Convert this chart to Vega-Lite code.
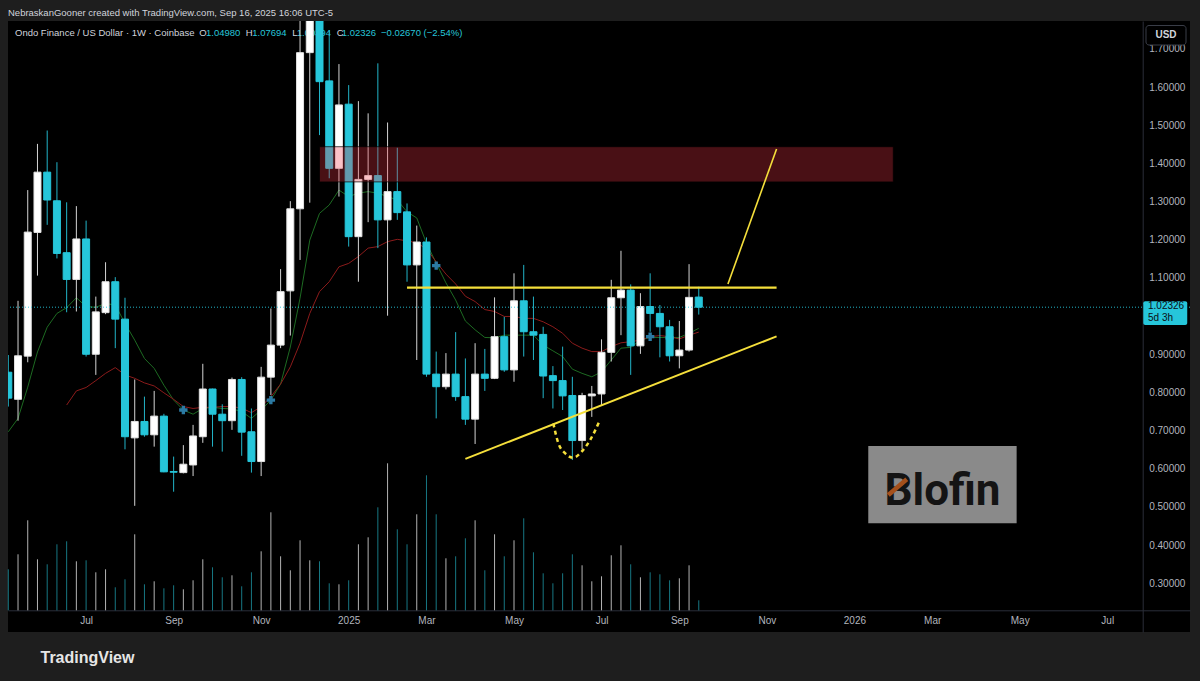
{
  "$schema": "https://vega.github.io/schema/vega-lite/v6.json",
  "width": 1182,
  "height": 611,
  "autosize": {"type": "none"},
  "padding": {"left": 8, "top": 21, "right": 10, "bottom": 49},
  "background": "#1e1e1e",
  "config": {
    "view": {"fill": "#000000", "stroke": null},
    "text": {"font": "Liberation Sans"},
    "axis": {"grid": false, "ticks": false},
    "scale": {"continuousPadding": 0}
  },
  "title": {
    "text": "NebraskanGooner created with TradingView.com, Sep 16, 2025 16:06 UTC-5",
    "anchor": "start",
    "frame": "group",
    "offset": 4,
    "font": "Liberation Sans",
    "fontSize": 9.5,
    "fontWeight": "normal",
    "color": "#d1d4dc"
  },
  "datasets": {
    "candles": [
      {"d":"2024-05-06","o":0.853,"h":0.898,"l":0.763,"c":0.785,"v":41,"g":0.697},
      {"d":"2024-05-13","o":0.782,"h":1.040,"l":0.726,"c":0.896,"v":56,"g":0.732},
      {"d":"2024-05-20","o":0.895,"h":1.330,"l":0.879,"c":1.220,"v":90,"g":0.814},
      {"d":"2024-05-27","o":1.219,"h":1.451,"l":1.106,"c":1.377,"v":51,"g":0.906},
      {"d":"2024-06-03","o":1.377,"h":1.486,"l":1.239,"c":1.304,"v":46,"g":0.971},
      {"d":"2024-06-10","o":1.302,"h":1.403,"l":1.151,"c":1.164,"v":66,"g":1.007},
      {"d":"2024-06-17","o":1.166,"h":1.298,"l":1.010,"c":1.096,"v":69,"g":1.022,"r":0.767},
      {"d":"2024-06-24","o":1.096,"h":1.288,"l":1.012,"c":1.202,"v":49,"g":1.048,"r":0.804},
      {"d":"2024-07-01","o":1.202,"h":1.250,"l":0.894,"c":0.900,"v":50,"g":1.025,"r":0.813},
      {"d":"2024-07-08","o":0.900,"h":1.051,"l":0.846,"c":1.011,"v":38,"g":1.023,"r":0.831},
      {"d":"2024-07-15","o":1.009,"h":1.141,"l":1.005,"c":1.090,"v":41,"g":1.033,"r":0.850},
      {"d":"2024-07-22","o":1.090,"h":1.102,"l":0.916,"c":0.992,"v":23,"g":1.029,"r":0.865},
      {"d":"2024-07-29","o":0.992,"h":1.048,"l":0.651,"c":0.684,"v":31,"g":0.981,"r":0.846},
      {"d":"2024-08-05","o":0.681,"h":0.834,"l":0.503,"c":0.724,"v":76,"g":0.937,"r":0.837},
      {"d":"2024-08-12","o":0.724,"h":0.789,"l":0.684,"c":0.689,"v":26,"g":0.889,"r":0.825},
      {"d":"2024-08-19","o":0.689,"h":0.804,"l":0.658,"c":0.738,"v":29,"g":0.863,"r":0.817},
      {"d":"2024-08-26","o":0.738,"h":0.744,"l":0.591,"c":0.592,"v":22,"g":0.819,"r":0.799},
      {"d":"2024-09-02","o":0.593,"h":0.632,"l":0.540,"c":0.591,"v":25,"g":0.780,"r":0.782},
      {"d":"2024-09-09","o":0.590,"h":0.662,"l":0.588,"c":0.612,"v":21,"g":0.754,"r":0.763,"xo":0.754},
      {"d":"2024-09-16","o":0.610,"h":0.715,"l":0.581,"c":0.686,"v":30,"g":0.743,"r":0.758},
      {"d":"2024-09-23","o":0.684,"h":0.875,"l":0.668,"c":0.809,"v":51,"g":0.758,"r":0.761},
      {"d":"2024-09-30","o":0.809,"h":0.810,"l":0.658,"c":0.743,"v":43,"g":0.761,"r":0.761},
      {"d":"2024-10-07","o":0.743,"h":0.769,"l":0.645,"c":0.726,"v":33,"g":0.758,"r":0.763},
      {"d":"2024-10-14","o":0.726,"h":0.839,"l":0.702,"c":0.834,"v":35,"g":0.757,"r":0.763},
      {"d":"2024-10-21","o":0.834,"h":0.840,"l":0.634,"c":0.696,"v":24,"g":0.750,"r":0.759},
      {"d":"2024-10-28","o":0.697,"h":0.758,"l":0.590,"c":0.619,"v":38,"g":0.732,"r":0.747},
      {"d":"2024-11-04","o":0.619,"h":0.867,"l":0.581,"c":0.840,"v":59,"g":0.754,"r":0.763},
      {"d":"2024-11-11","o":0.840,"h":1.020,"l":0.793,"c":0.924,"v":98,"g":0.780,"r":0.789,"xo":0.780},
      {"d":"2024-11-18","o":0.924,"h":1.123,"l":0.916,"c":1.064,"v":54,"g":0.822,"r":0.822},
      {"d":"2024-11-25","o":1.066,"h":1.301,"l":0.949,"c":1.281,"v":40,"g":0.919,"r":0.867},
      {"d":"2024-12-02","o":1.281,"h":1.950,"l":1.147,"c":1.690,"v":70,"g":1.047,"r":0.929},
      {"d":"2024-12-09","o":1.690,"h":2.140,"l":1.297,"c":1.920,"v":50,"g":1.199,"r":1.007},
      {"d":"2024-12-16","o":1.920,"h":2.000,"l":1.474,"c":1.614,"v":49,"g":1.269,"r":1.064},
      {"d":"2024-12-23","o":1.616,"h":1.749,"l":1.361,"c":1.387,"v":27,"g":1.291,"r":1.090},
      {"d":"2024-12-30","o":1.387,"h":1.660,"l":1.313,"c":1.553,"v":26,"g":1.330,"r":1.129},
      {"d":"2025-01-06","o":1.555,"h":1.605,"l":1.182,"c":1.208,"v":30,"g":1.313,"r":1.138},
      {"d":"2025-01-13","o":1.208,"h":1.563,"l":1.090,"c":1.358,"v":66,"g":1.322,"r":1.156},
      {"d":"2025-01-20","o":1.358,"h":1.531,"l":1.246,"c":1.368,"v":73,"g":1.326,"r":1.178},
      {"d":"2025-01-27","o":1.368,"h":1.662,"l":1.178,"c":1.252,"v":103,"g":1.322,"r":1.182},
      {"d":"2025-02-03","o":1.252,"h":1.507,"l":1.001,"c":1.326,"v":147,"g":1.313,"r":1.195},
      {"d":"2025-02-10","o":1.326,"h":1.441,"l":1.252,"c":1.271,"v":81,"g":1.304,"r":1.201},
      {"d":"2025-02-17","o":1.273,"h":1.295,"l":1.090,"c":1.134,"v":66,"g":1.273,"r":1.197},
      {"d":"2025-02-24","o":1.134,"h":1.237,"l":0.885,"c":1.194,"v":96,"g":1.257,"r":1.192},
      {"d":"2025-03-03","o":1.194,"h":1.206,"l":0.841,"c":0.848,"v":135,"g":1.191,"r":1.176},
      {"d":"2025-03-10","o":0.848,"h":0.907,"l":0.732,"c":0.815,"v":96,"g":1.139,"r":1.142,"xo":1.132},
      {"d":"2025-03-17","o":0.815,"h":0.903,"l":0.808,"c":0.848,"v":52,"g":1.087,"r":1.110},
      {"d":"2025-03-24","o":0.848,"h":0.958,"l":0.778,"c":0.789,"v":54,"g":1.042,"r":1.084},
      {"d":"2025-03-31","o":0.789,"h":0.889,"l":0.715,"c":0.730,"v":72,"g":0.987,"r":1.052},
      {"d":"2025-04-07","o":0.730,"h":0.929,"l":0.665,"c":0.848,"v":90,"g":0.964,"r":1.038},
      {"d":"2025-04-14","o":0.848,"h":0.914,"l":0.804,"c":0.837,"v":40,"g":0.944,"r":1.017},
      {"d":"2025-04-21","o":0.837,"h":1.049,"l":0.835,"c":0.946,"v":76,"g":0.943,"r":1.012},
      {"d":"2025-04-28","o":0.946,"h":0.998,"l":0.854,"c":0.859,"v":54,"g":0.950,"r":0.999},
      {"d":"2025-05-05","o":0.859,"h":1.112,"l":0.828,"c":1.040,"v":70,"g":0.950,"r":0.999},
      {"d":"2025-05-12","o":1.040,"h":1.134,"l":0.894,"c":0.959,"v":92,"g":0.950,"r":0.994},
      {"d":"2025-05-19","o":0.959,"h":1.051,"l":0.885,"c":0.950,"v":58,"g":0.950,"r":0.994},
      {"d":"2025-05-26","o":0.952,"h":0.972,"l":0.785,"c":0.843,"v":37,"g":0.924,"r":0.985},
      {"d":"2025-06-02","o":0.844,"h":0.869,"l":0.758,"c":0.831,"v":27,"g":0.909,"r":0.972},
      {"d":"2025-06-09","o":0.831,"h":0.920,"l":0.754,"c":0.791,"v":37,"g":0.894,"r":0.955},
      {"d":"2025-06-16","o":0.792,"h":0.841,"l":0.623,"c":0.674,"v":56,"g":0.861,"r":0.929},
      {"d":"2025-06-23","o":0.674,"h":0.799,"l":0.651,"c":0.792,"v":45,"g":0.850,"r":0.916},
      {"d":"2025-06-30","o":0.791,"h":0.817,"l":0.736,"c":0.796,"v":29,"g":0.841,"r":0.907},
      {"d":"2025-07-07","o":0.796,"h":0.939,"l":0.767,"c":0.905,"v":34,"g":0.854,"r":0.907},
      {"d":"2025-07-14","o":0.905,"h":1.095,"l":0.881,"c":1.048,"v":55,"g":0.885,"r":0.920},
      {"d":"2025-07-21","o":1.048,"h":1.171,"l":0.950,"c":1.068,"v":65,"g":0.916,"r":0.930},
      {"d":"2025-07-28","o":1.068,"h":1.083,"l":0.846,"c":0.922,"v":46,"g":0.918,"r":0.933},
      {"d":"2025-08-04","o":0.922,"h":1.060,"l":0.901,"c":1.025,"v":33,"g":0.937,"r":0.937},
      {"d":"2025-08-11","o":1.025,"h":1.112,"l":0.959,"c":1.007,"v":38,"g":0.944,"r":0.946,"xo":0.946},
      {"d":"2025-08-18","o":1.007,"h":1.029,"l":0.892,"c":0.972,"v":36,"g":0.944,"r":0.949},
      {"d":"2025-08-25","o":0.972,"h":0.990,"l":0.881,"c":0.896,"v":30,"g":0.944,"r":0.946,"xo":0.943},
      {"d":"2025-09-01","o":0.896,"h":0.987,"l":0.863,"c":0.911,"v":32,"g":0.944,"r":0.940},
      {"d":"2025-09-08","o":0.911,"h":1.136,"l":0.907,"c":1.049,"v":45,"g":0.955,"r":0.950,"xo":0.956},
      {"d":"2025-09-15","o":1.0498,"h":1.07694,"l":1.00394,"c":1.02326,"v":10,"g":0.968,"r":0.958}
    ],
    "hline": [{"d":"2025-02-17","p":1.0743},{"d":"2025-11-10","p":1.0743}],
    "support": [{"d":"2025-03-31","p":0.626},{"d":"2025-11-10","p":0.947}],
    "proj": [{"d":"2025-10-06","p":1.084},{"d":"2025-11-10","p":1.4376}],
    "cup": [
      {"d":"2025-06-02T07:00:00Z","p":0.719},
      {"d":"2025-06-05T22:00:00Z","p":0.667},
      {"d":"2025-06-10T17:00:00Z","p":0.641},
      {"d":"2025-06-16T17:00:00Z","p":0.629},
      {"d":"2025-06-22T17:00:00Z","p":0.645},
      {"d":"2025-06-28T17:00:00Z","p":0.675},
      {"d":"2025-07-05T22:00:00Z","p":0.728}
    ]
  },
  "data": {"name": "candles"},
  "layer": [
    {
      "data": {"values": [{}]},
      "layer": [
        {"mark": {"type": "text", "align": "left", "baseline": "middle", "fontSize": 9.5, "color": "#d1d4dc", "text": "Ondo Finance / US Dollar · 1W · Coinbase"},
         "encoding": {"x": {"datum": {"year":2024,"month":5,"date":10,"hours":19,"minutes":40,"utc":true}, "type": "temporal", "scale": {"domain": [1714935000000, 1788443400000], "nice": false, "padding": 0}},
                      "y": {"datum": 1.7407, "type": "quantitative", "scale": {"domain": [0.17255, 1.77287], "zero": false, "nice": false}, "axis": null}}},
        {"mark": {"type": "text", "align": "left", "baseline": "middle", "fontSize": 9.5, "color": "#d1d4dc", "text": "O"},
         "encoding": {"x": {"datum": {"year":2024,"month":9,"date":20,"hours":11,"minutes":30,"utc":true}, "type": "temporal"}, "y": {"datum": 1.7407, "type": "quantitative"}}},
        {"mark": {"type": "text", "align": "left", "baseline": "middle", "fontSize": 9.5, "color": "#26c6da", "text": "1.04980"},
         "encoding": {"x": {"datum": {"year":2024,"month":9,"date":25,"hours":7,"minutes":10,"utc":true}, "type": "temporal"}, "y": {"datum": 1.7407, "type": "quantitative"}}},
        {"mark": {"type": "text", "align": "left", "baseline": "middle", "fontSize": 9.5, "color": "#d1d4dc", "text": "H"},
         "encoding": {"x": {"datum": {"year":2024,"month":10,"date":23,"hours":21,"minutes":36,"utc":true}, "type": "temporal"}, "y": {"datum": 1.7407, "type": "quantitative"}}},
        {"mark": {"type": "text", "align": "left", "baseline": "middle", "fontSize": 9.5, "color": "#26c6da", "text": "1.07694"},
         "encoding": {"x": {"datum": {"year":2024,"month":10,"date":28,"hours":14,"minutes":24,"utc":true}, "type": "temporal"}, "y": {"datum": 1.7407, "type": "quantitative"}}},
        {"mark": {"type": "text", "align": "left", "baseline": "middle", "fontSize": 9.5, "color": "#d1d4dc", "text": "L"},
         "encoding": {"x": {"datum": {"year":2024,"month":11,"date":26,"hours":9,"minutes":36,"utc":true}, "type": "temporal"}, "y": {"datum": 1.7407, "type": "quantitative"}}},
        {"mark": {"type": "text", "align": "left", "baseline": "middle", "fontSize": 9.5, "color": "#26c6da", "text": "1.00394"},
         "encoding": {"x": {"datum": {"year":2024,"month":11,"date":29,"hours":14,"minutes":24,"utc":true}, "type": "temporal"}, "y": {"datum": 1.7407, "type": "quantitative"}}},
        {"mark": {"type": "text", "align": "left", "baseline": "middle", "fontSize": 9.5, "color": "#d1d4dc", "text": "C"},
         "encoding": {"x": {"datum": {"year":2024,"month":12,"date":28,"hours":9,"minutes":36,"utc":true}, "type": "temporal"}, "y": {"datum": 1.7407, "type": "quantitative"}}},
        {"mark": {"type": "text", "align": "left", "baseline": "middle", "fontSize": 9.5, "color": "#26c6da", "text": "1.02326"},
         "encoding": {"x": {"datum": {"year":2025,"month":1,"date":1,"utc":true}, "type": "temporal"}, "y": {"datum": 1.7407, "type": "quantitative"}}},
        {"mark": {"type": "text", "align": "left", "baseline": "middle", "fontSize": 9.5, "color": "#26c6da", "text": "−0.02670 (−2.54%)"},
         "encoding": {"x": {"datum": {"year":2025,"month":1,"date":29,"hours":7,"minutes":12,"utc":true}, "type": "temporal"}, "y": {"datum": 1.7407, "type": "quantitative"}}}
      ]
    },
    {
      "mark": {"type": "rule", "strokeWidth": 1},
      "encoding": {
        "x": {"field": "d", "type": "temporal", "scale": {"domain": [1714935000000, 1788443400000], "nice": false, "padding": 0},
              "axis": {
                "orient": "bottom", "offset": -21.7,
                "values": [
                  {"year":2024,"month":7,"date":1,"utc":true},
                  {"year":2024,"month":9,"date":2,"utc":true},
                  {"year":2024,"month":11,"date":4,"utc":true},
                  {"year":2025,"month":1,"date":6,"utc":true},
                  {"year":2025,"month":3,"date":3,"utc":true},
                  {"year":2025,"month":5,"date":5,"utc":true},
                  {"year":2025,"month":7,"date":7,"utc":true},
                  {"year":2025,"month":9,"date":1,"utc":true},
                  {"year":2025,"month":11,"date":3,"utc":true},
                  {"year":2026,"month":1,"date":5,"utc":true},
                  {"year":2026,"month":3,"date":2,"utc":true},
                  {"year":2026,"month":5,"date":4,"utc":true},
                  {"year":2026,"month":7,"date":6,"utc":true}
                ],
                "labelExpr": "utcmonth(datum.value) == 0 ? utcFormat(datum.value, '%Y') : utcFormat(datum.value, '%b')",
                "domainColor": "#2a2e39", "domainWidth": 1,
                "labelColor": "#b2b5be", "labelFont": "Liberation Sans", "labelFontSize": 10, "labelPadding": 5,
                "labelOverlap": false, "labelFlush": false, "labelBound": false,
                "ticks": false, "grid": false,
                "title": "TradingView", "titleX": 32, "titleY": 46.7, "titleAlign": "left", "titleBaseline": "middle",
                "titleFont": "Liberation Sans", "titleFontSize": 16, "titleFontWeight": "bold", "titleColor": "#e6e6e6"
              }},
        "y": {"field": "v", "type": "quantitative", "scale": {"domain": [-21.7, 589.3], "zero": false, "nice": false}, "axis": null},
        "y2": {"datum": 0},
        "color": {"condition": {"test": "datum.c >= datum.o", "value": "#ffffff"}, "value": "#26c6da"},
        "opacity": {"condition": {"test": "datum.c >= datum.o", "value": 0.7}, "value": 0.6}
      }
    },
    {
      "layer": [
        {"mark": {"type": "line", "color": "#1d6a22", "strokeWidth": 1, "clip": true},
         "encoding": {"x": {"field": "d", "type": "temporal", "scale": {"domain": [1714935000000, 1788443400000], "nice": false, "padding": 0}},
                      "y": {"field": "g", "type": "quantitative", "scale": {"domain": [0.17255, 1.77287], "zero": false, "nice": false, "padding": 0}}}},
        {"mark": {"type": "line", "color": "#8c1b1b", "strokeWidth": 1, "clip": true},
         "encoding": {"x": {"field": "d", "type": "temporal"}, "y": {"field": "r", "type": "quantitative"}}},
        {"mark": {"type": "point", "shape": "cross", "filled": true, "size": 70, "color": "#2b7aa3", "opacity": 1},
         "encoding": {"x": {"field": "d", "type": "temporal"}, "y": {"field": "xo", "type": "quantitative"}}},
        {"mark": {"type": "rule", "strokeWidth": 1, "clip": true},
         "encoding": {
           "x": {"field": "d", "type": "temporal"},
           "y": {"field": "l", "type": "quantitative",
                 "axis": {"orient": "right", "offset": -47.3, "values": [0.3,0.4,0.5,0.6,0.7,0.8,0.9,1.1,1.2,1.3,1.4,1.5,1.6,1.7],
                          "format": ".5f", "labelColor": "#b2b5be", "labelFont": "Liberation Sans", "labelFontSize": 10, "labelPadding": 6,
                          "ticks": false, "grid": false, "domainColor": "#2a2e39", "title": null, "labelOverlap": false, "labelFlush": false, "labelBound": false}},
           "y2": {"field": "h"},
           "color": {"condition": {"test": "datum.c >= datum.o", "value": "#d4d4d4"}, "value": "#22b4c8"}
         }},
        {"mark": {"type": "bar", "size": 7, "strokeWidth": 1, "clip": true},
         "encoding": {
           "x": {"field": "d", "type": "temporal"},
           "y": {"field": "o", "type": "quantitative"},
           "y2": {"field": "c"},
           "fill": {"condition": {"test": "datum.c >= datum.o", "value": "#ffffff"}, "value": "#26c6da"},
           "stroke": {"condition": {"test": "datum.c >= datum.o", "value": "#e0e0e0"}, "value": "#26c6da"}
         }},
        {"data": {"values": [{}]},
         "mark": {"type": "rect", "fill": "#f23645", "fillOpacity": 0.3, "stroke": "#000000", "strokeOpacity": 0.7, "strokeWidth": 1},
         "encoding": {"x": {"datum": {"year":2024,"month":12,"date":16,"utc":true}, "type": "temporal"},
                      "x2": {"datum": {"year":2026,"month":2,"date":2,"utc":true}},
                      "y": {"datum": 1.3515, "type": "quantitative"}, "y2": {"datum": 1.4436}}},
        {"data": {"name": "hline"}, "mark": {"type": "line", "color": "#f5df3b", "strokeWidth": 2.3},
         "encoding": {"x": {"field": "d", "type": "temporal"}, "y": {"field": "p", "type": "quantitative"}}},
        {"data": {"name": "support"}, "mark": {"type": "line", "color": "#f5df3b", "strokeWidth": 2},
         "encoding": {"x": {"field": "d", "type": "temporal"}, "y": {"field": "p", "type": "quantitative"}}},
        {"data": {"name": "proj"}, "mark": {"type": "line", "color": "#f5df3b", "strokeWidth": 1.6},
         "encoding": {"x": {"field": "d", "type": "temporal"}, "y": {"field": "p", "type": "quantitative"}}},
        {"data": {"name": "cup"}, "mark": {"type": "line", "color": "#f5df3b", "strokeWidth": 2.5, "strokeDash": [4, 3.5], "interpolate": "monotone"},
         "encoding": {"x": {"field": "d", "type": "temporal"}, "y": {"field": "p", "type": "quantitative"}}},
        {"data": {"values": [{}]},
         "mark": {"type": "rule", "color": "#26c6da", "strokeWidth": 1, "strokeDash": [1, 2], "opacity": 0.9},
         "encoding": {"y": {"datum": 1.02326, "type": "quantitative"}}},
        {"data": {"values": [{}]},
         "mark": {"type": "rect", "fill": "#8a8a8a"},
         "encoding": {"x": {"datum": {"year":2026,"month":1,"date":15,"utc":true}, "type": "temporal"},
                      "x2": {"datum": {"year":2026,"month":5,"date":1,"hours":19,"utc":true}},
                      "y": {"datum": 0.4573, "type": "quantitative"}, "y2": {"datum": 0.6597}}},
        {"data": {"values": [{}]},
         "mark": {"type": "text", "text": "Blofin", "font": "Roboto", "fontSize": 44, "fontWeight": "bold", "color": "#141414", "align": "center", "baseline": "alphabetic"},
         "encoding": {"x": {"datum": {"year":2026,"month":3,"date":9,"hours":10,"utc":true}, "type": "temporal"},
                      "y": {"datum": 0.5052, "type": "quantitative"}}},
        {"data": {"values": [{}]},
         "mark": {"type": "rule", "color": "#a4501c", "strokeWidth": 4.5},
         "encoding": {"x": {"datum": {"year":2026,"month":1,"date":29,"hours":10,"utc":true}, "type": "temporal"},
                      "x2": {"datum": {"year":2026,"month":2,"date":11,"hours":17,"utc":true}},
                      "y": {"datum": 0.5314, "type": "quantitative"}, "y2": {"datum": 0.5725}}},
        {"data": {"values": [{}]},
         "mark": {"type": "rect", "fill": "#26c6da", "cornerRadius": 2},
         "encoding": {"x": {"datum": {"year":2026,"month":7,"date":31,"hours":23,"utc":true}, "type": "temporal"},
                      "x2": {"datum": {"year":2026,"month":9,"date":1,"hours":14,"utc":true}},
                      "y": {"datum": 0.9766, "type": "quantitative"}, "y2": {"datum": 1.0387}}},
        {"data": {"values": [{}]},
         "mark": {"type": "text", "text": "1.02326", "fontSize": 10, "color": "#0b0e14", "align": "left", "baseline": "middle"},
         "encoding": {"x": {"datum": {"year":2026,"month":8,"date":4,"hours":8,"minutes":25,"utc":true}, "type": "temporal"},
                      "y": {"datum": 1.0256, "type": "quantitative"}}},
        {"data": {"values": [{}]},
         "mark": {"type": "text", "text": "5d 3h", "fontSize": 10, "color": "#0b0e14", "align": "left", "baseline": "middle"},
         "encoding": {"x": {"datum": {"year":2026,"month":8,"date":4,"hours":8,"minutes":25,"utc":true}, "type": "temporal"},
                      "y": {"datum": 0.9937, "type": "quantitative"}}},
        {"data": {"values": [{}]},
         "mark": {"type": "rect", "fill": "#000000", "stroke": "#3a3e48", "strokeWidth": 1, "cornerRadius": 3},
         "encoding": {"x": {"datum": {"year":2026,"month":8,"date":2,"hours":21,"minutes":36,"utc":true}, "type": "temporal"},
                      "x2": {"datum": {"year":2026,"month":8,"date":31,"hours":17,"utc":true}},
                      "y": {"datum": 1.7100, "type": "quantitative"}, "y2": {"datum": 1.7611}}},
        {"data": {"values": [{}]},
         "mark": {"type": "text", "text": "USD", "fontSize": 10, "fontWeight": "bold", "color": "#d1d4dc", "align": "center", "baseline": "middle"},
         "encoding": {"x": {"datum": {"year":2026,"month":8,"date":17,"hours":7,"minutes":12,"utc":true}, "type": "temporal"},
                      "y": {"datum": 1.7362, "type": "quantitative"}}}
      ]
    }
  ],
  "resolve": {"scale": {"y": "independent"}}
}
